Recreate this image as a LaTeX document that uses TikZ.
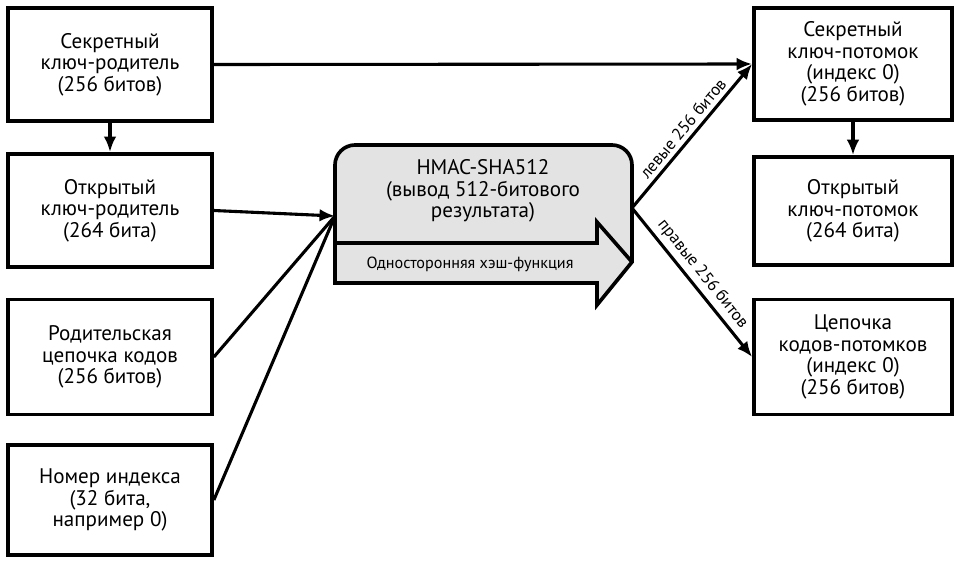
\documentclass[tikz,border=0pt]{standalone}
\usepackage{fontspec}
\setmainfont{PT Sans}
\usetikzlibrary{arrows.meta, positioning}

\begin{document}
\begin{tikzpicture}[x=0.025cm, y=-0.025cm, >={Latex[length=11pt,width=9pt]},
    keybox/.style={draw, line width=2.6pt, align=center, inner sep=2pt,
        font=\fontsize{15}{15.3}\selectfont, minimum width=5.1cm},
    link/.style={line width=2.2pt},
    bitlabel/.style={font=\fontsize{12}{13}\selectfont, sloped, above, midway, inner sep=3pt}]
    \useasboundingbox (0,0) rectangle (958,561);

    % Parent side
    \node[keybox, minimum height=2.83cm] (parentpriv) at (110,64.5) {Секретный\\ключ-родитель\\(256 битов)};
    \node[keybox, minimum height=2.83cm] (parentpub) at (110,210.5) {Открытый\\ключ-родитель\\(264 бита)};
    \node[keybox, minimum height=2.88cm] (parentchain) at (110,357) {Родительская\\цепочка кодов\\(256 битов)};
    \node[keybox, minimum height=2.75cm] (index) at (110,500) {Номер индекса\\(32 бита,\\например 0)};

    % Child side
    \node[keybox, minimum width=4.95cm, minimum height=2.8cm] (childpriv) at (853,64) {Секретный\\ключ-потомок\\(индекс 0)\\(256 битов)};
    \node[keybox, minimum width=4.95cm, minimum height=2.7cm] (childpub) at (853,211) {Открытый\\ключ-потомок\\(264 бита)};
    \node[keybox, minimum width=4.95cm, minimum height=2.88cm] (childchain) at (853,357) {Цепочка\\кодов-потомков\\(индекс 0)\\(256 битов)};

    % Hash function
    \filldraw[fill=gray!22, line width=2.6pt] (335,283) [rounded corners=0.5cm] -- (335,145) -- (632,145) -- (632,200)
        [sharp corners] -- (632,262) -- (597,305) -- (597,283) -- cycle;
    \draw[line width=2.6pt] (335,243) -- (597,243) -- (597,222) -- (632,262);
    \node[align=center, font=\fontsize{15}{15.3}\selectfont] (hmac) at (483,191) {HMAC-SHA512\\(вывод 512-битового\\результата)};
    \node[font=\fontsize{11.5}{12}\selectfont] (oneway) at (470,264) {Односторонняя хэш-функция};
    \coordinate (hashin) at (335,216);
    \coordinate (hashout) at (632,208);

    % Connectors
    \draw[link,->] (parentpriv.south) -- (parentpub.north);
    \draw[link,->] (childpriv.south) -- (childpub.north);
    \draw[link,->] (parentpriv.east) -- (childpriv.west);
    \draw[link,->] (parentpub.east) -- (hashin);
    \draw[link] (parentchain.east) -- (hashin);
    \draw[link] (index.east) -- (hashin);
    \draw[link,->] (hashout) -- node[bitlabel] {левые 256 битов} (childpriv.west);
    \draw[link,->] (hashout) -- node[bitlabel] {правые 256 битов} (childchain.west);
\end{tikzpicture}
\end{document}
